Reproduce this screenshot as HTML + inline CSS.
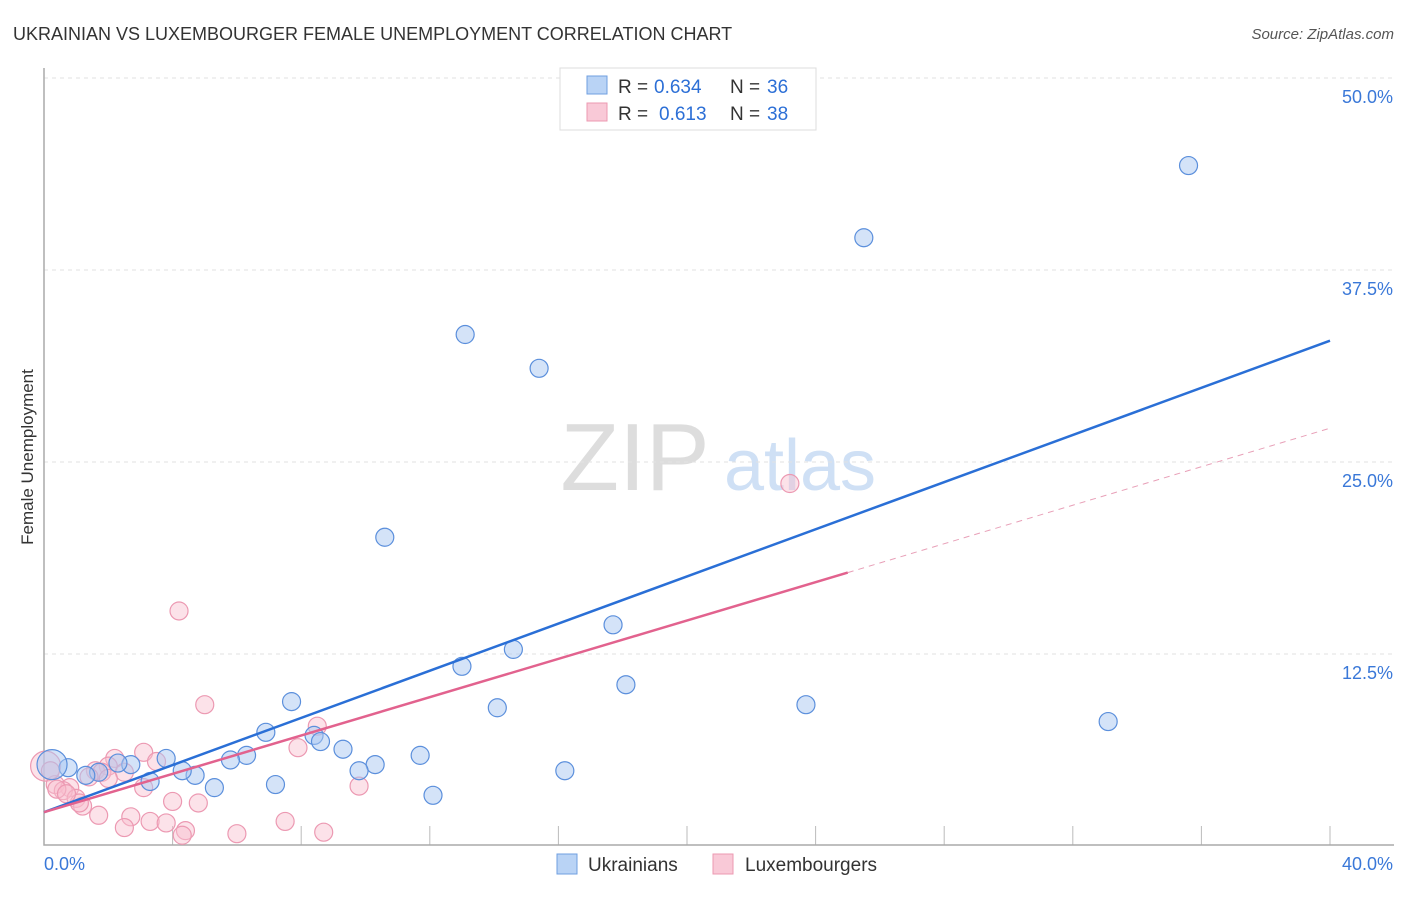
<!DOCTYPE html>
<html><head><meta charset="utf-8"><style>
body{margin:0;background:#fff;font-family:"Liberation Sans",sans-serif;}
svg text{font-family:"Liberation Sans",sans-serif;}
</style></head><body>
<svg id="chart" width="1406" height="892" xmlns="http://www.w3.org/2000/svg">
<text x="13" y="40" font-size="18" fill="#333">UKRAINIAN VS LUXEMBOURGER FEMALE UNEMPLOYMENT CORRELATION CHART</text>
<text x="1394" y="39" font-size="15" fill="#555" text-anchor="end" font-style="italic">Source: ZipAtlas.com</text>
<text transform="translate(33,457) rotate(-90)" font-size="17" fill="#333" text-anchor="middle">Female Unemployment</text>
<g>
<text x="635" y="490" font-size="96" fill="#ddd" font-family="Liberation Serif" text-anchor="middle">ZIP</text>
<text x="800" y="490" font-size="72" fill="#cfe0f5" text-anchor="middle">atlas</text>
</g>
<g id="grid"></g><g id="marks"></g>
<g>
<rect x="560" y="68" width="256" height="62" fill="#fff" stroke="#ddd"/>
<rect x="587" y="76" width="20" height="18" fill="#b9d3f5" stroke="#6f9fe0"/>
<rect x="587" y="103" width="20" height="18" fill="#f9c9d7" stroke="#ec99b2"/>
<text x="618" y="93" font-size="19" fill="#333">R =</text>
<text x="654" y="93" font-size="19" fill="#2c6fd6">0.634</text>
<text x="730" y="93" font-size="19" fill="#333">N =</text>
<text x="767" y="93" font-size="19" fill="#2c6fd6">36</text>
<text x="618" y="120" font-size="19" fill="#333">R =</text>
<text x="659" y="120" font-size="19" fill="#2c6fd6">0.613</text>
<text x="730" y="120" font-size="19" fill="#333">N =</text>
<text x="767" y="120" font-size="19" fill="#2c6fd6">38</text>
</g>
<g>
<rect x="557" y="854" width="20" height="20" fill="#b9d3f5" stroke="#6f9fe0"/>
<text x="588" y="871" font-size="19" fill="#333">Ukrainians</text>
<rect x="713" y="854" width="20" height="20" fill="#f9c9d7" stroke="#ec99b2"/>
<text x="745" y="871" font-size="19" fill="#333">Luxembourgers</text>
</g>
</svg>
<script>
const yTicks=[12.5,25,37.5,50];
const yTickLabels=["12.5%","25.0%","37.5%","50.0%"];
const xTicks=[0,4,8,12,16,20,24,28,32,36,40];
const blueX=[35.6,25.5,13.1,15.4,10.6,17.7,14.6,13.0,18.1,14.1,23.7,33.1,7.7,6.9,8.4,8.6,9.3,11.7,10.3,9.8,16.2,12.1,7.2,6.3,5.8,5.3,4.7,4.3,3.8,3.3,2.7,2.3,1.7,1.3,0.75,0.25];
const blueY=[44.3,39.6,33.3,31.1,20.1,14.4,12.8,11.7,10.5,9.0,9.2,8.1,9.4,7.4,7.2,6.8,6.3,5.9,5.3,4.9,4.9,3.3,4.0,5.9,5.6,3.8,4.6,4.9,5.7,4.2,5.3,5.4,4.8,4.6,5.1,5.3];
const pinkX=[23.2,4.2,5.0,8.5,7.9,3.1,3.5,2.2,2.0,2.5,1.6,1.8,1.4,0.05,0.35,0.8,0.6,1.0,1.2,1.1,3.1,1.7,2.7,2.5,3.3,3.8,4.0,4.8,4.4,4.3,6.0,7.5,8.7,9.8,0.4,2.0,0.7,0.2];
const pinkY=[23.6,15.3,9.2,7.8,6.4,6.1,5.5,5.7,5.2,4.8,4.9,4.8,4.5,5.2,4.0,3.8,3.6,3.1,2.6,2.8,3.8,2.0,1.9,1.2,1.6,1.5,2.9,2.8,1.0,0.7,0.8,1.6,0.9,3.9,3.7,4.4,3.4,4.9];
const blueLine=[[0,2.2],[40,32.9]];
const pinkLine=[[0,2.2],[25,17.8]];
const pinkDash=[[25,17.8],[40,27.2]];
const X=v=>44+v*32.15, Y=v=>846-v*15.36;
const NS="http://www.w3.org/2000/svg";
function mk(t,a,p){const e=document.createElementNS(NS,t);for(const k in a)e.setAttribute(k,a[k]);p.appendChild(e);return e;}
const g=document.getElementById('grid'), m=document.getElementById('marks');
yTicks.forEach((t,i)=>{
 const l=mk('line',{x1:44,x2:1394,y1:Y(t),y2:Y(t),stroke:'#e2e2e2','stroke-dasharray':'4,4'},g);
 
 
 const tx=mk('text',{x:1393,y:Y(t)+25,'font-size':18,fill:'#3a78d8','text-anchor':'end'},g);
 tx.textContent=yTickLabels[i];
 
 
});
xTicks.forEach(t=>{
 if(t===0)return;
 const l=mk('line',{x1:X(t),x2:X(t),y1:826,y2:845,stroke:'#bbb'},g);
 
 
});
const ax=mk('path',{d:'M44,68 V845 H1394',fill:'none',stroke:'#aaa','stroke-width':1.5},g);


[[0,'0.0%',44,'start'],[40,'40.0%',1393,'end']].forEach(d=>{
 const tx=mk('text',{x:d[2],y:870,'font-size':18,fill:'#3a78d8','text-anchor':d[3]},g);
 tx.textContent=d[1];
 
 
});
function pts(xs,ys,fill,stroke,name){xs.forEach((x,i)=>{
 const r=(i===xs.length-1&&name==='ukrainian-point')||(i===13&&name==='luxembourger-point')?15:9;
 const c=mk('circle',{cx:X(x),cy:Y(ys[i]),r:r,fill:fill,stroke:stroke,'stroke-width':1.2},m);
 
 
});}
pts(pinkX,pinkY,'rgba(249,190,207,0.45)','#ec99b2','luxembourger-point');
pts(blueX,blueY,'rgba(170,200,242,0.5)','#5b8fdc','ukrainian-point');
function ln(a,st,w,dash,name){const l=mk('line',{x1:X(a[0][0]),y1:Y(a[0][1]),x2:X(a[1][0]),y2:Y(a[1][1]),stroke:st,'stroke-width':w},m);
 if(dash)l.setAttribute('stroke-dasharray',dash);
 
 }
ln(pinkDash,'#e8a0b8',1,'6,5','luxembourger-trend-extension');
ln(blueLine,'#2a6fd6',2.5,null,'ukrainian-trend-line');
ln(pinkLine,'#e2628e',2.5,null,'luxembourger-trend-line');
</script>
</body></html>
